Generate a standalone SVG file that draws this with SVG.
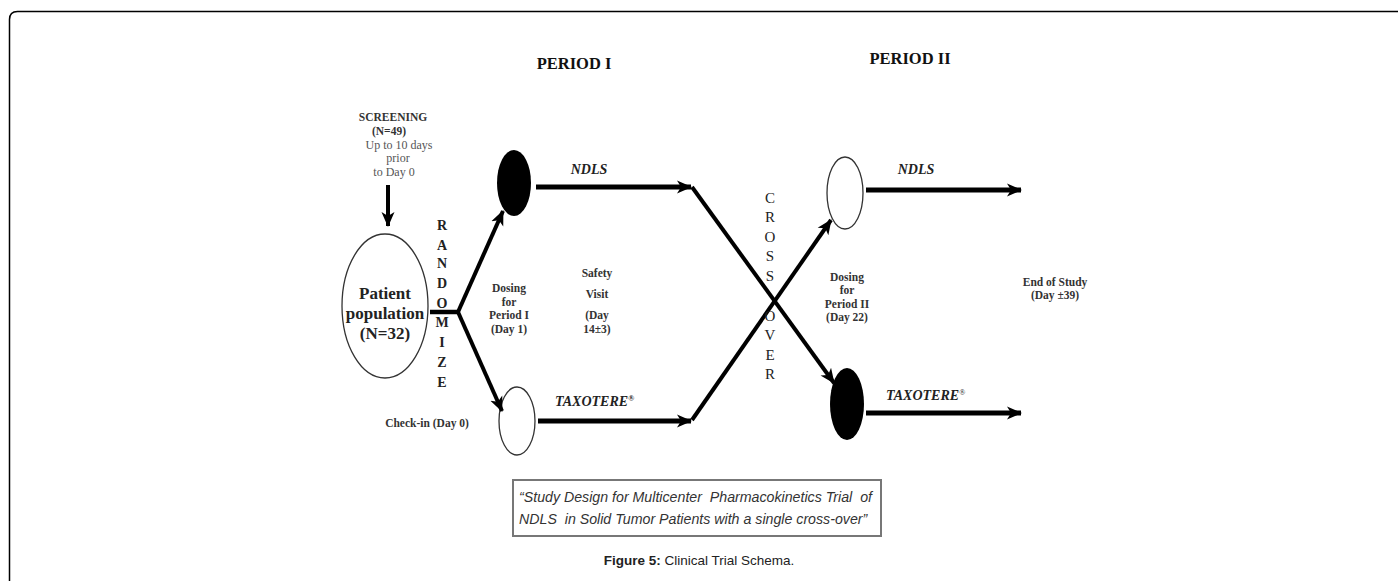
<svg xmlns="http://www.w3.org/2000/svg" width="1398" height="581" viewBox="0 0 1398 581">
<style>
.s{font-family:"Liberation Serif","Times New Roman",serif;fill:#222}
.b{font-weight:bold}
.hd{font-size:16.5px;font-weight:bold;fill:#111}
.sm{font-size:11.5px;font-weight:bold;fill:#333}
.lt{font-size:12px;fill:#555}
.lab{font-size:14px;font-weight:bold;font-style:italic;fill:#222}
.vr{font-size:14px;font-weight:bold;fill:#222}
.vc{font-size:15px;fill:#222}
.pp{font-size:17px;font-weight:bold;fill:#222}
.ln{stroke:#000;fill:none;stroke-linecap:butt}
.cap{font-family:"Liberation Sans",Arial,sans-serif;fill:#333}
</style>
<defs>
<marker id="ah" markerUnits="userSpaceOnUse" markerWidth="16" markerHeight="16" viewBox="0 0 16 16" refX="14" refY="8" orient="auto">
<path d="M0,1.5 L15,8 L0,14.5 L4,8 Z" fill="#000"/>
</marker>
</defs>
<rect width="1398" height="581" fill="#fff"/>
<path d="M9.5,590 V19.5 Q9.5,11.5 17.5,11.5 H1410" fill="none" stroke="#000" stroke-width="1.5"/>

<text class="s hd" x="574" y="69" text-anchor="middle">PERIOD I</text>
<text class="s hd" x="910" y="64" text-anchor="middle">PERIOD II</text>

<g id="screening" text-anchor="middle">
<text class="s b" style="font-size:11.5px;fill:#333" x="393" y="121">SCREENING</text>
<text class="s b" style="font-size:11.5px;fill:#333" x="389" y="135">(N=49)</text>
<text class="s lt" x="399" y="149">Up to 10 days</text>
<text class="s lt" x="398" y="162">prior</text>
<text class="s lt" x="394" y="176">to Day 0</text>
</g>

<g id="patients">
<ellipse cx="385" cy="306" rx="43" ry="72" fill="#fff" stroke="#333" stroke-width="1.3"/>
<text class="s pp" x="385" y="299" text-anchor="middle">Patient</text>
<text class="s pp" x="385" y="319" text-anchor="middle">population</text>
<text class="s pp" x="385" y="339" text-anchor="middle">(N=32)</text>
</g>

<g id="randomize" class="s vr" text-anchor="middle">
<text x="442" y="230">R</text>
<text x="442" y="250">A</text>
<text x="442" y="268">N</text>
<text x="442" y="288">D</text>
<text x="442" y="308">O</text>
<text x="442" y="327">M</text>
<text x="442" y="347">I</text>
<text x="442" y="367">Z</text>
<text x="442" y="387">E</text>
</g>

<g id="p1-ndls">
<ellipse cx="514" cy="183" rx="17" ry="33" fill="#000"/>
</g>
<g id="p1-taxotere">
<ellipse cx="517" cy="421" rx="18" ry="34" fill="#fff" stroke="#333" stroke-width="1.3"/>
</g>
<g id="p2-ndls">
<ellipse cx="845" cy="193" rx="18" ry="36" fill="#fff" stroke="#333" stroke-width="1.3"/>
</g>
<g id="p2-taxotere">
<ellipse cx="847" cy="404" rx="17" ry="36" fill="#000"/>
</g>

<g id="connectors">
<line class="ln" x1="388" y1="185" x2="388" y2="226" stroke-width="4" marker-end="url(#ah)"/>
<polyline class="ln" points="430,312 458,312" stroke-width="4.5"/>
<line class="ln" x1="458" y1="312" x2="503" y2="211" stroke-width="4" marker-end="url(#ah)"/>
<line class="ln" x1="458" y1="312" x2="502" y2="411" stroke-width="4" marker-end="url(#ah)"/>
<line class="ln" x1="536" y1="187" x2="691" y2="187" stroke-width="5" marker-end="url(#ah)"/>
<line class="ln" x1="538" y1="421" x2="691" y2="421" stroke-width="5" marker-end="url(#ah)"/>
<line class="ln" x1="692" y1="187" x2="834" y2="383" stroke-width="4" marker-end="url(#ah)"/>
<line class="ln" x1="692" y1="420" x2="831" y2="220" stroke-width="4" marker-end="url(#ah)"/>
<line class="ln" x1="866" y1="190" x2="1021" y2="190" stroke-width="5" marker-end="url(#ah)"/>
<line class="ln" x1="866" y1="413" x2="1021" y2="413" stroke-width="5" marker-end="url(#ah)"/>
</g>

<g id="labels">
<text class="s lab" x="589" y="174" text-anchor="middle">NDLS</text>
<text class="s lab" x="555" y="406">TAXOTERE<tspan font-size="8" dy="-5">®</tspan></text>
<text class="s lab" x="916" y="174" text-anchor="middle">NDLS</text>
<text class="s lab" x="886" y="400">TAXOTERE<tspan font-size="8" dy="-5" font-style="normal" font-weight="normal">®</tspan></text>
<text class="s sm" x="427" y="427" text-anchor="middle">Check-in (Day 0)</text>
<g text-anchor="middle" class="s sm">
<text x="509" y="292">Dosing</text>
<text x="509" y="306">for</text>
<text x="509" y="319">Period I</text>
<text x="509" y="333">(Day 1)</text>
<text x="597" y="277">Safety</text>
<text x="597" y="298">Visit</text>
<text x="597" y="319">(Day</text>
<text x="597" y="333">14±3)</text>
<text x="847" y="281">Dosing</text>
<text x="847" y="294">for</text>
<text x="847" y="308">Period II</text>
<text x="847" y="321">(Day 22)</text>
<text x="1055" y="286">End of Study</text>
<text x="1055" y="299">(Day ±39)</text>
</g>
</g>

<g id="crossover" class="s vc" text-anchor="middle">
<text x="770" y="203">C</text>
<text x="770" y="222">R</text>
<text x="770" y="242">O</text>
<text x="770" y="261">S</text>
<text x="770" y="281">S</text>
<text x="770" y="321">O</text>
<text x="770" y="340">V</text>
<text x="770" y="360">E</text>
<text x="770" y="379">R</text>
</g>

<g id="caption-box">
<rect x="513" y="480" width="368" height="56" fill="#fff" stroke="#777" stroke-width="2"/>
<text class="cap" font-style="italic" font-size="14.2" x="519" y="502" xml:space="preserve">“Study Design for Multicenter  Pharmacokinetics Trial  of</text>
<text class="cap" font-style="italic" font-size="14.2" x="519" y="524" xml:space="preserve">NDLS  in Solid Tumor Patients with a single cross-over”</text>
</g>

<text class="cap" font-size="13.5" x="699" y="565" text-anchor="middle" style="fill:#222"><tspan font-weight="bold">Figure 5:</tspan> Clinical Trial Schema.</text>
</svg>
